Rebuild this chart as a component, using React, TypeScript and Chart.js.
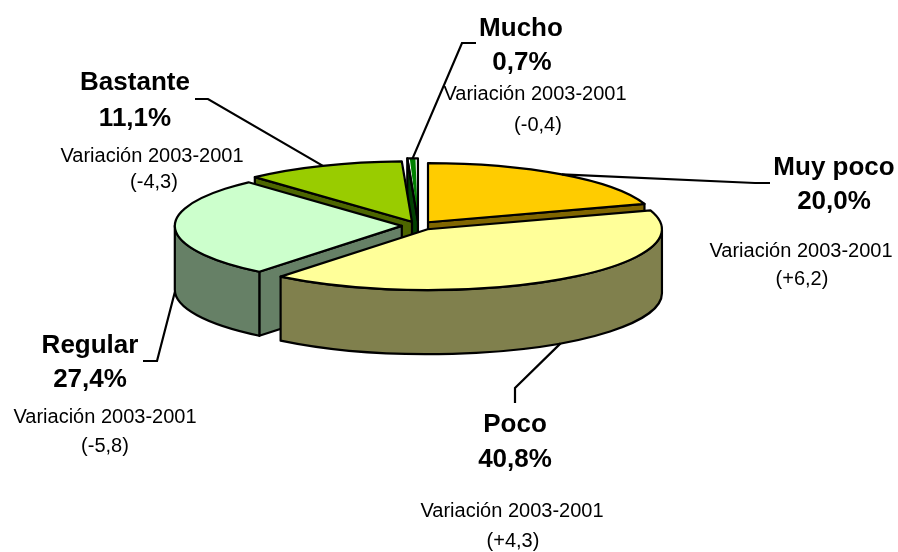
import React, { useEffect, useRef } from 'react';
import { Chart, registerables } from 'chart.js';

Chart.register(...registerables);

// ---- data ----
const categories = ['Muy poco', 'Poco', 'Regular', 'Bastante', 'Mucho'];
const shares = [20.0, 40.8, 27.4, 11.1, 0.7];
const variations = [6.2, 4.3, -5.8, -4.3, -0.4];
const variationTitle = 'Variación 2003-2001';

// ---- styles ----
const topColors = ['#FFCC00', '#FFFF99', '#CCFFCC', '#99CC00', '#008000'];
const sideColors = ['#806600', '#80804D', '#668066', '#4D6600', '#004000'];

// ---- layout ----
const W = 898;
const H = 552;
const CENTER_X = 418.3;
const CENTER_Y = 225.7;
const RADIUS = 226.8;
const TILT = 0.26;
const DEPTH = 64;
const EXPLODE = 66;
const BORDER = 2.2;

type P = [number, number];
const labelLayout: { name: P; pct: P; v: P; p: P; leader: P[] }[] = [
  { name: [834, 175], pct: [834, 209], v: [801, 257], p: [802, 285], leader: [[755, 183], [770, 183]] },
  { name: [515, 432], pct: [515, 467], v: [512, 517], p: [513, 547], leader: [[515, 388], [515, 403]] },
  { name: [90, 353], pct: [90, 387], v: [105, 423], p: [105, 452], leader: [[157, 361], [143, 361]] },
  { name: [135, 90], pct: [135, 126], v: [152, 162], p: [154, 188], leader: [[208, 99], [195, 99]] },
  { name: [521, 36], pct: [522, 70], v: [535, 100], p: [538, 131], leader: [[462, 43], [476, 43]] },
];

const fmt = (n: number) => n.toFixed(1).replace('.', ',');

function geom(el: any) {
  const off = (el.options.offset || 0) / 4;
  const s = el.startAngle;
  const e = el.endAngle;
  const half = (s + e) / 2;
  const circ = e - s;
  const fix = 1 - Math.sin(Math.min(Math.PI, circ));
  const r = el.outerRadius + off * fix;
  const cx = el.x + Math.cos(half) * off;
  const cyc = el.y + Math.sin(half) * off;
  const cy = CENTER_Y + TILT * (cyc - el.y);
  return { cx, cy, rx: r, ry: r * TILT, s, e, half };
}

const pt = (g: any, a: number, dy = 0): P => [g.cx + g.rx * Math.cos(a), g.cy + g.ry * Math.sin(a) + dy];

const pie3d = {
  id: 'pie3d',
  beforeDatasetsDraw(chart: any) {
    const ctx: CanvasRenderingContext2D = chart.ctx;
    const meta = chart.getDatasetMeta(0);
    const els = meta.data;
    const order = els.map((_: any, i: number) => i).sort((a: number, b: number) => {
      const ga = geom(els[a]);
      const gb = geom(els[b]);
      return Math.sin(ga.half) - Math.sin(gb.half);
    });
    ctx.save();
    ctx.lineWidth = BORDER;
    ctx.lineJoin = 'round';
    ctx.strokeStyle = '#000';
    for (const i of order) {
      const g = geom(els[i]);
      ctx.fillStyle = sideColors[i];
      const wall = (a: number) => {
        const p1 = pt(g, a);
        ctx.beginPath();
        ctx.moveTo(g.cx, g.cy);
        ctx.lineTo(p1[0], p1[1]);
        ctx.lineTo(p1[0], p1[1] + DEPTH);
        ctx.lineTo(g.cx, g.cy + DEPTH);
        ctx.closePath();
        ctx.fill();
        ctx.stroke();
      };
      if (Math.cos(g.s) < -1e-6) wall(g.s);
      if (Math.cos(g.e) > 1e-6) wall(g.e);
      for (const k of [-2 * Math.PI, 0, 2 * Math.PI]) {
        const a = Math.max(g.s, k);
        const b = Math.min(g.e, k + Math.PI);
        if (b > a) {
          const pb = pt(g, b, DEPTH);
          ctx.beginPath();
          ctx.ellipse(g.cx, g.cy, g.rx, g.ry, 0, a, b, false);
          ctx.lineTo(pb[0], pb[1]);
          ctx.ellipse(g.cx, g.cy + DEPTH, g.rx, g.ry, 0, b, a, true);
          ctx.closePath();
          ctx.fill();
          ctx.stroke();
        }
      }
    }
    ctx.restore();
    // squash the library's circular pie into the tilted top face
    const y0 = els[0].y;
    ctx.save();
    ctx.translate(0, CENTER_Y);
    ctx.scale(1, TILT);
    ctx.translate(0, -y0);
  },
  afterDatasetsDraw(chart: any) {
    const ctx: CanvasRenderingContext2D = chart.ctx;
    ctx.restore();
    const els = chart.getDatasetMeta(0).data;
    ctx.save();
    ctx.lineWidth = BORDER;
    ctx.lineJoin = 'round';
    ctx.strokeStyle = '#000';
    els.forEach((el: any) => {
      const g = geom(el);
      ctx.beginPath();
      ctx.moveTo(g.cx, g.cy);
      ctx.ellipse(g.cx, g.cy, g.rx, g.ry, 0, g.s, g.e, false);
      ctx.closePath();
      ctx.stroke();
    });
    // leader lines
    ctx.lineWidth = 2.2;
    ctx.lineJoin = 'miter';
    els.forEach((el: any, i: number) => {
      const g = geom(el);
      const a = pt(g, g.half, Math.sin(g.half) > 0 ? DEPTH : 0);
      const L = labelLayout[i].leader;
      ctx.beginPath();
      ctx.moveTo(a[0], a[1]);
      L.forEach((q) => ctx.lineTo(q[0], q[1]));
      ctx.stroke();
    });
    // labels
    ctx.fillStyle = '#000';
    ctx.textAlign = 'center';
    ctx.textBaseline = 'alphabetic';
    categories.forEach((c, i) => {
      const L = labelLayout[i];
      ctx.font = 'bold 26px "Liberation Sans", Arial, sans-serif';
      ctx.fillText(c, L.name[0], L.name[1]);
      ctx.fillText(fmt(shares[i]) + '%', L.pct[0], L.pct[1]);
      ctx.font = '20px "Liberation Sans", Arial, sans-serif';
      ctx.fillText(variationTitle, L.v[0], L.v[1]);
      const v = variations[i];
      ctx.fillText('(' + (v > 0 ? '+' : '') + fmt(v) + ')', L.p[0], L.p[1]);
    });
    ctx.restore();
  },
};

export default function App() {
  const ref = useRef<HTMLCanvasElement>(null);
  useEffect(() => {
    if (!ref.current) return;
    const chart = new Chart(ref.current, {
      type: 'pie',
      data: {
        labels: categories,
        datasets: [
          {
            data: shares,
            backgroundColor: topColors,
            borderWidth: 0,
            offset: EXPLODE,
            clip: false as any,
          } as any,
        ],
      },
      options: {
        responsive: false,
        animation: false,
        events: [],
        radius: RADIUS,
        layout: { padding: { left: 0, right: W - 2 * CENTER_X, top: 0, bottom: 0 } },
        plugins: { legend: { display: false }, tooltip: { enabled: false }, title: { display: false } },
      } as any,
      plugins: [pie3d],
    });
    return () => chart.destroy();
  }, []);
  return (
    <div style={{ position: 'absolute', left: 0, top: 0, width: W, height: H, background: '#fff' }}>
      <canvas ref={ref} width={W} height={H} style={{ display: 'block' }} />
    </div>
  );
}
